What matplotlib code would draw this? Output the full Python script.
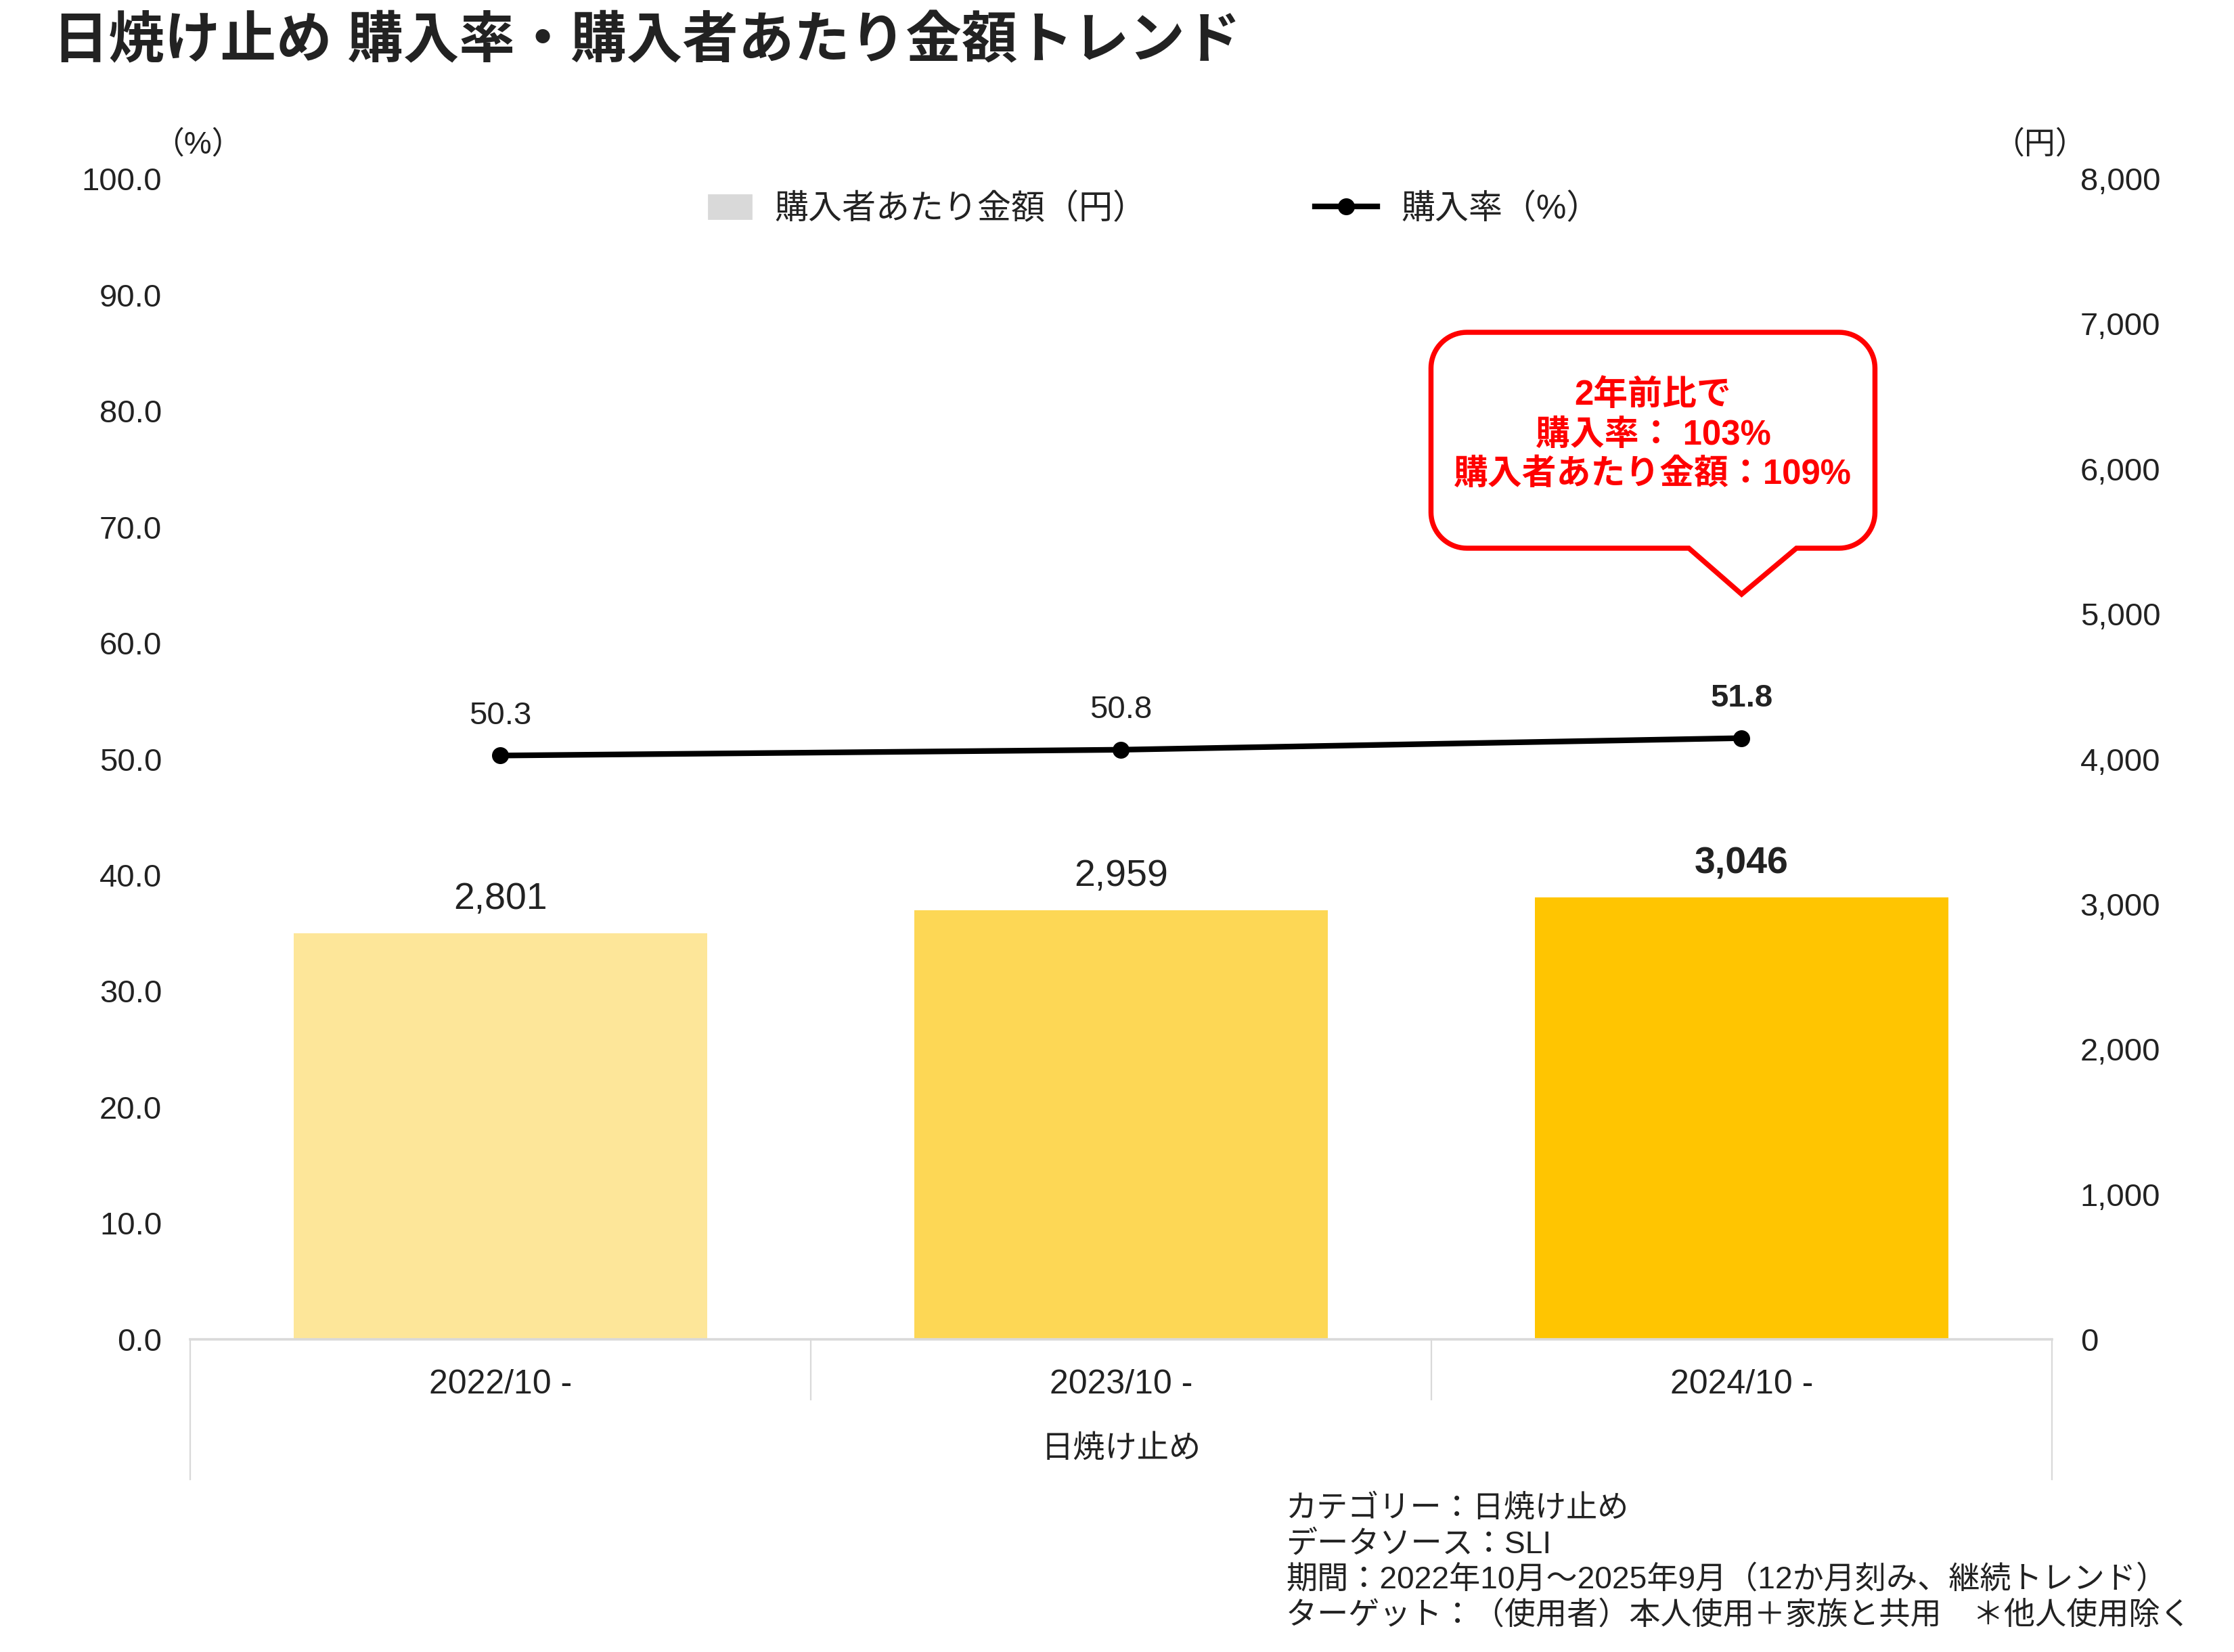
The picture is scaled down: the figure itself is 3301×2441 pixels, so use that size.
import numpy as np
import matplotlib
matplotlib.use("Agg")
import matplotlib.pyplot as plt
from matplotlib.patches import Patch, PathPatch
from matplotlib.lines import Line2D
from matplotlib.path import Path
import matplotlib.transforms as mtransforms

plt.rcParams['font.family'] = ['Liberation Sans', 'Noto Sans CJK JP']

# data
periods = ['2022/10 -', '2023/10 -', '2024/10 -']
category = '日焼け止め'
spend = [2801, 2959, 3046]          # 購入者あたり金額（円）
rate = [50.3, 50.8, 51.8]           # 購入率（%）
bar_colors = ['#FDE699', '#FDD755', '#FFC501']
left_ticks = np.arange(0, 101, 10)
right_ticks = np.arange(0, 8001, 1000)

title = '日焼け止め 購入率・購入者あたり金額トレンド'
callout_lines = ['2年前比で', '購入率： 103%', '購入者あたり金額：109%']
notes = ['カテゴリー：日焼け止め',
         'データソース：SLI',
         '期間：2022年10月～2025年9月（12か月刻み、継続トレンド）',
         'ターゲット：（使用者）本人使用＋家族と共用　＊他人使用除く']

text_col = '#222222'
grid_col = '#D9D9D9'

fig = plt.figure(figsize=(16.505, 12.205), dpi=200)
ax = fig.add_axes([0.0851, 0.1893, 0.8334, 0.7025])
ax2 = ax.twinx()
ax.set_zorder(ax2.get_zorder() + 1)
ax.patch.set_visible(False)

x = np.arange(len(periods))

# bars (right axis)
ax2.bar(x, spend, width=0.667, color=bar_colors, zorder=2)
ax2.set_ylim(0, 8000)
ax2.set_yticks(right_ticks)
ax2.set_yticklabels([f'{v:,}' for v in right_ticks])
for i, v in enumerate(spend):
    ax2.annotate(f'{v:,}', (x[i], v), xytext=(0, 18), textcoords='offset points',
                 ha='center', va='center', fontsize=20, color=text_col,
                 fontweight='bold' if i == len(spend) - 1 else 'normal')

# line (left axis)
ax.plot(x, rate, color='black', lw=3, marker='o', markersize=8, zorder=5)
ax.set_ylim(0, 100)
ax.set_yticks(left_ticks)
ax.set_yticklabels([f'{v:.1f}' for v in left_ticks])
for i, v in enumerate(rate):
    ax.annotate(f'{v:.1f}', (x[i], v), xytext=(0, 21), textcoords='offset points',
                ha='center', va='center', fontsize=17, color=text_col,
                fontweight='bold' if i == len(rate) - 1 else 'normal')

ax.set_xlim(-0.5, len(periods) - 0.5)
ax.set_xticks(x)
ax.set_xticklabels(periods, fontsize=18, color=text_col)

for a in (ax, ax2):
    for s in a.spines.values():
        s.set_visible(False)
    a.tick_params(length=0, labelsize=17, labelcolor=text_col)
ax.tick_params(axis='y', pad=15)
ax2.tick_params(axis='y', pad=15)
ax.tick_params(axis='x', pad=16, labelsize=18)
ax.spines['bottom'].set_visible(True)
ax.spines['bottom'].set_color(grid_col)
ax.spines['bottom'].set_linewidth(1.3)

# category separators below the axis
bt = mtransforms.blended_transform_factory(ax.transData, ax.transAxes)
edges = np.arange(-0.5, len(periods), 1.0)
for j, e in enumerate(edges):
    bottom = -0.1207 if j in (0, len(edges) - 1) else -0.052
    ax.plot([e, e], [0, bottom], color=grid_col, lw=0.8, transform=bt, clip_on=False)
ax.text(np.mean(x), -0.0956, category, transform=bt, ha='center', va='center',
        fontsize=17, color=text_col)

# unit labels
fig.text(0.0885, 0.912, '（%）', ha='center', va='center', fontsize=16.5, color=text_col)
fig.text(0.913, 0.912, '（円）', ha='center', va='center', fontsize=16.5, color=text_col)

# legends
fig.legend(handles=[Patch(color=grid_col, label='購入者あたり金額（円）')],
           loc='center left', bbox_to_anchor=(0.3172, 0.8734), frameon=False,
           fontsize=18, handlelength=1.25, handleheight=0.7, handletextpad=0.7,
           borderpad=0, borderaxespad=0, labelcolor=text_col)
fig.legend(handles=[Line2D([], [], color='black', lw=3, marker='o', markersize=8,
                           label='購入率（%）')],
           loc='center left', bbox_to_anchor=(0.5886, 0.8734), frameon=False,
           fontsize=18, handlelength=1.85, handletextpad=0.7,
           borderpad=0, borderaxespad=0, labelcolor=text_col)

# title
fig.text(0.0237, 0.974, title, ha='left', va='center', fontsize=29.7,
         fontweight='bold', color=text_col)

# callout bubble (inches, relative to tip)
tip_tr = fig.dpi_scale_trans + mtransforms.ScaledTranslation(2, 64.2, ax.transData)
L, R, T, B, r = -2.295, 0.985, 1.935, 0.34, 0.265
pl, pr = -0.39, 0.405


def arc(cx, cy, a0, a1):
    t = np.radians(np.linspace(a0, a1, 20))
    return list(zip(cx + r * np.cos(t), cy + r * np.sin(t)))


verts = [(pl, B), (0, 0), (pr, B), (R - r, B)]
verts += arc(R - r, B + r, -90, 0)
verts += arc(R - r, T - r, 0, 90)
verts += arc(L + r, T - r, 90, 180)
verts += arc(L + r, B + r, 180, 270)
verts += [(pl, B), (pl, B)]
codes = [Path.MOVETO] + [Path.LINETO] * (len(verts) - 2) + [Path.CLOSEPOLY]
bubble = PathPatch(Path(verts, codes), facecolor='white', edgecolor='#FF0000',
                   lw=2.7, transform=tip_tr, zorder=10, clip_on=False)
fig.add_artist(bubble)
fig.text(-0.655, 1.175, '\n'.join(callout_lines), transform=tip_tr, ha='center',
         va='center', fontsize=18.3, fontweight='bold', color='#FF0000',
         linespacing=1.24, zorder=11)

# notes
fig.text(0.5756, 0.0543, '\n'.join(notes), ha='left', va='center', fontsize=16.6,
         color=text_col, linespacing=1.25)

fig.savefig('out.png', dpi=200)
